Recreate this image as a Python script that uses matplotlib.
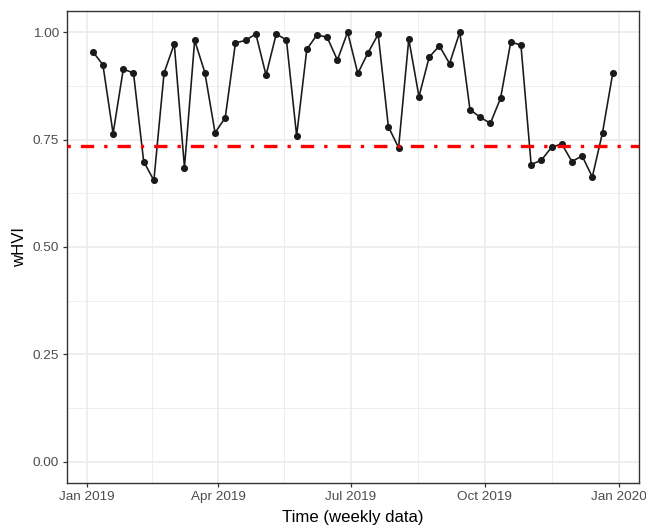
import matplotlib
matplotlib.use("Agg")
import matplotlib.pyplot as plt
import matplotlib.dates as mdates
import numpy as np
import pandas as pd

plt.rcParams['font.family'] = ['Liberation Sans', 'DejaVu Sans']

dates = pd.date_range("2019-01-05", periods=52, freq="7D")
whvi = [0.955, 0.924, 0.764, 0.914, 0.905, 0.699, 0.655, 0.905, 0.973, 0.685,
        0.981, 0.906, 0.766, 0.801, 0.975, 0.981, 0.996, 0.900, 0.996, 0.982,
        0.759, 0.960, 0.994, 0.988, 0.935, 1.000, 0.904, 0.952, 0.995, 0.780,
        0.731, 0.984, 0.850, 0.942, 0.968, 0.927, 1.000, 0.820, 0.802, 0.788,
        0.846, 0.977, 0.970, 0.692, 0.702, 0.732, 0.740, 0.699, 0.712, 0.663,
        0.766, 0.904]
threshold = 0.736
y_ticks = [0.00, 0.25, 0.50, 0.75, 1.00]
x_ticks = ["2019-01-01", "2019-04-01", "2019-07-01", "2019-10-01", "2020-01-01"]
x_labels = ["Jan 2019", "Apr 2019", "Jul 2019", "Oct 2019", "Jan 2020"]

fig = plt.figure(figsize=(6.46, 5.26), dpi=100)
L, R, T, B = 66.7, 638.7, 10.7, 483.3
ax = fig.add_axes([L/646, 1-B/526, (R-L)/646, (B-T)/526])

xt = mdates.date2num(pd.to_datetime(x_ticks))
xn = mdates.date2num(dates)
span = xn[-1] - xn[0]
ax.set_xlim(xn[0] - 0.05*span, xn[-1] + 0.05*span)
ax.set_ylim(-0.05, 1.05)

# grid
minor_x = (xt[:-1] + xt[1:]) / 2
minor_y = [0.125, 0.375, 0.625, 0.875]
for v in minor_x:
    ax.axvline(v, color="#EBEBEB", lw=0.6, zorder=0)
for v in minor_y:
    ax.axhline(v, color="#EBEBEB", lw=0.6, zorder=0)
for v in xt:
    ax.axvline(v, color="#EBEBEB", lw=1.2, zorder=0)
for v in y_ticks:
    ax.axhline(v, color="#EBEBEB", lw=1.2, zorder=0)

ax.plot(xn, whvi, color="#1A1A1A", lw=1.17, zorder=3)
ax.scatter(xn, whvi, color="#1A1A1A", s=26, zorder=4, linewidths=0)
ax.axhline(threshold, color="#FF0000", lw=2.4, linestyle=(0, (1, 3, 4, 3)),
           dash_capstyle="butt", zorder=5)

ax.set_xticks(xt)
ax.set_xticklabels(x_labels)
ax.set_yticks(y_ticks)
ax.set_yticklabels([f"{v:.2f}" for v in y_ticks])
ax.tick_params(axis="both", colors="#333333", labelcolor="#4D4D4D",
               labelsize=9.7, length=3.0, width=0.9, pad=2.4)
for s in ax.spines.values():
    s.set_color("#333333")
    s.set_linewidth(1.0)

ax.set_xlabel("Time (weekly data)", fontsize=12.1, color="black", labelpad=5)
ax.set_ylabel("wHVI", fontsize=12.1, color="black", labelpad=4)

fig.savefig("out.png", dpi=100)
